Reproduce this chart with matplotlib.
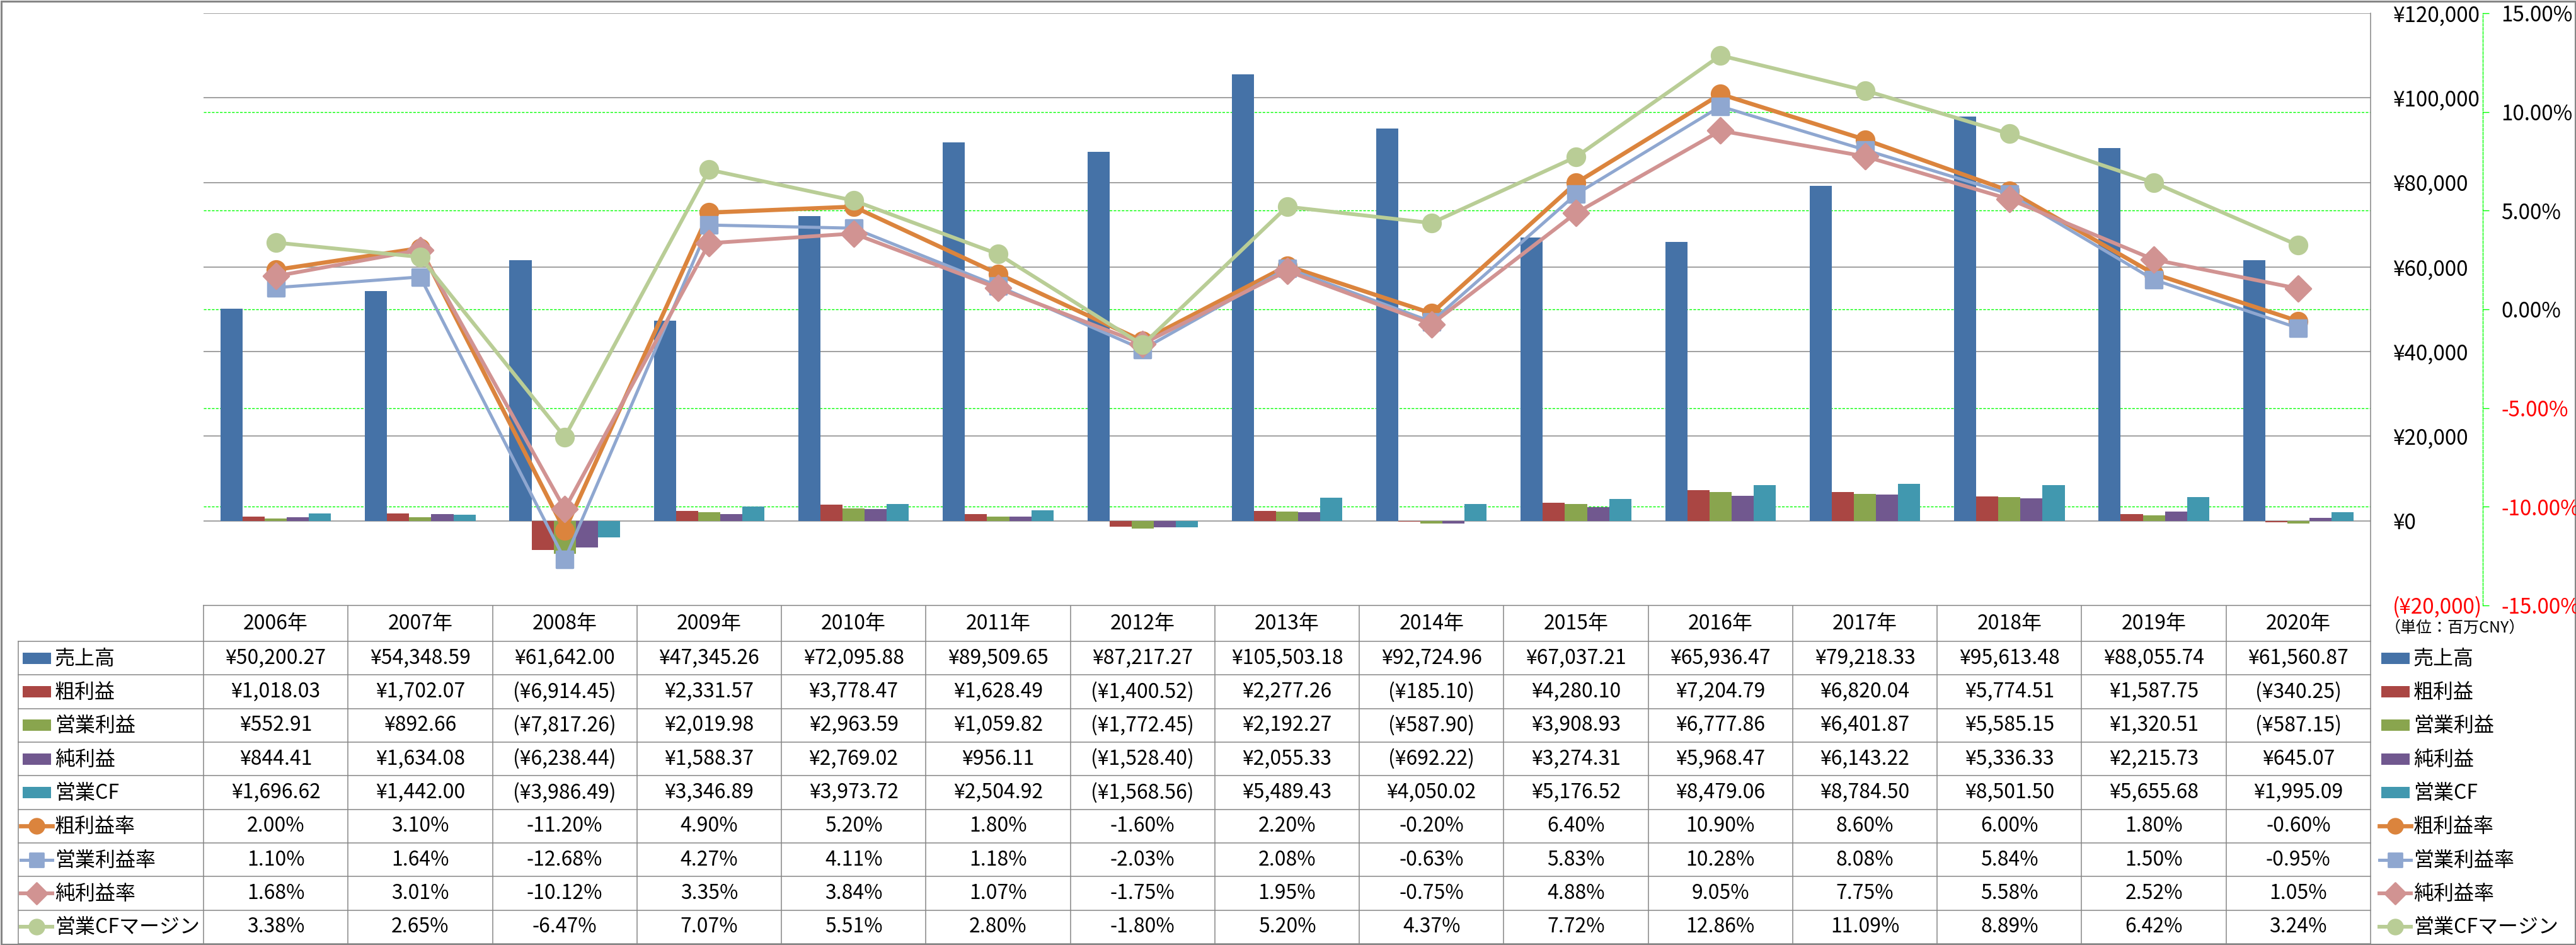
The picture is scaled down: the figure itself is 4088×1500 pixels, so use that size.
import numpy as np
import matplotlib
matplotlib.use('Agg')
import matplotlib.pyplot as plt
from matplotlib.patches import Rectangle
from matplotlib.lines import Line2D
from matplotlib.markers import MarkerStyle

plt.rcParams['font.family'] = ['Noto Sans CJK JP', 'DejaVu Sans']

years = ['2006年', '2007年', '2008年', '2009年', '2010年', '2011年', '2012年', '2013年',
         '2014年', '2015年', '2016年', '2017年', '2018年', '2019年', '2020年']

# 単位: 百万CNY
sales = [50200.27, 54348.59, 61642.00, 47345.26, 72095.88, 89509.65, 87217.27, 105503.18,
         92724.96, 67037.21, 65936.47, 79218.33, 95613.48, 88055.74, 61560.87]
gross = [1018.03, 1702.07, -6914.45, 2331.57, 3778.47, 1628.49, -1400.52, 2277.26,
         -185.10, 4280.10, 7204.79, 6820.04, 5774.51, 1587.75, -340.25]
oper = [552.91, 892.66, -7817.26, 2019.98, 2963.59, 1059.82, -1772.45, 2192.27,
        -587.90, 3908.93, 6777.86, 6401.87, 5585.15, 1320.51, -587.15]
net = [844.41, 1634.08, -6238.44, 1588.37, 2769.02, 956.11, -1528.40, 2055.33,
       -692.22, 3274.31, 5968.47, 6143.22, 5336.33, 2215.73, 645.07]
opcf = [1696.62, 1442.00, -3986.49, 3346.89, 3973.72, 2504.92, -1568.56, 5489.43,
        4050.02, 5176.52, 8479.06, 8784.50, 8501.50, 5655.68, 1995.09]

# percent
gross_m = [2.00, 3.10, -11.20, 4.90, 5.20, 1.80, -1.60, 2.20, -0.20, 6.40, 10.90, 8.60, 6.00, 1.80, -0.60]
oper_m = [1.10, 1.64, -12.68, 4.27, 4.11, 1.18, -2.03, 2.08, -0.63, 5.83, 10.28, 8.08, 5.84, 1.50, -0.95]
net_m = [1.68, 3.01, -10.12, 3.35, 3.84, 1.07, -1.75, 1.95, -0.75, 4.88, 9.05, 7.75, 5.58, 2.52, 1.05]
cf_m = [3.38, 2.65, -6.47, 7.07, 5.51, 2.80, -1.80, 5.20, 4.37, 7.72, 12.86, 11.09, 8.89, 6.42, 3.24]

bar_names = ['売上高', '粗利益', '営業利益', '純利益', '営業CF']
line_names = ['粗利益率', '営業利益率', '純利益率', '営業CFマージン']
unit_text = '（単位：百万CNY）'

bar_series = [sales, gross, oper, net, opcf]
line_series = [gross_m, oper_m, net_m, cf_m]
bar_colors = ['#4572A7', '#AA4643', '#89A54E', '#71588F', '#4198AF']
line_colors = ['#DB843D', '#8FA7D0', '#D19392', '#B9CD96']
line_markers = ['o', 's', 'D', 'o']
line_ms = [20, 18.5, 20, 20]
line_lw = [4.8, 3.6, 4.3, 4.3]

W, H = 4088, 1500
L, R, T, B = 323, 3762, 21, 961
gray = '#868686'
fs = 23

fig = plt.figure(figsize=(W / 100, H / 100), dpi=100)
ax = fig.add_axes([L / W, 1 - B / H, (R - L) / W, (B - T) / H])

n = len(years)
x = np.arange(n)
bw = 0.153
for j, (vals, c) in enumerate(zip(bar_series, bar_colors)):
    ax.bar(x + (j - 2) * bw, vals, width=bw, color=c, zorder=3, linewidth=0)

ymin, ymax = -20000, 120000
pmin, pmax = -0.15, 0.15
ax.set_xlim(-0.5, n - 0.5)
ax.set_ylim(ymin, ymax)
ax.set_xticks([])
ax.grid(axis='y', color=gray, linewidth=1.1, zorder=1)
ax.set_axisbelow(True)
for p in [-0.10, -0.05, 0.0, 0.05, 0.10]:
    ax.axhline(ymin + (p - pmin) / (pmax - pmin) * (ymax - ymin), color='#00FF00',
               linestyle=(0, (3, 1.6)), linewidth=1.0, zorder=2)
for s in ['top', 'left', 'bottom']:
    ax.spines[s].set_visible(False)
ax.spines['right'].set_color(gray)
ax.spines['right'].set_linewidth(1.1)

def mstyle(m):
    return MarkerStyle(m, joinstyle='round')

ax2 = ax.twinx()
ax2.set_ylim(pmin, pmax)
for vals, c, m, ms, lw in zip(line_series, line_colors, line_markers, line_ms, line_lw):
    ax2.plot(x, np.array(vals) / 100, color=c, marker=mstyle(m), markersize=ms, linewidth=lw,
             markeredgecolor=c, markeredgewidth=2.5, zorder=4)

# primary axis labels on the right side
yt = np.arange(ymin, ymax + 1, 20000)
ax.set_yticks(yt)
ax.yaxis.tick_right()
ax.tick_params(axis='y', length=0, pad=25, labelsize=24)
ax.set_yticklabels(['¥{:,.0f}'.format(v) if v >= 0 else '(¥{:,.0f})'.format(-v) for v in yt])

pt = np.linspace(pmin, pmax, 7)
ax2.set_yticks(pt)
ax2.set_yticklabels(['{:.2f}%'.format(v * 100) for v in pt])
ax2.tick_params(axis='y', length=7, width=1.0, color='#00FF00', pad=14, labelsize=24)
for s in ['top', 'left', 'bottom']:
    ax2.spines[s].set_visible(False)
ax2.spines['right'].set_position(('outward', (3940 - R) * 0.72))
ax2.spines['right'].set_color('#00FF00')
ax2.spines['right'].set_linestyle((0, (3, 1.6)))
ax2.spines['right'].set_linewidth(1.0)

for lbl in ax.get_yticklabels() + ax2.get_yticklabels():
    t = lbl.get_text()
    lbl.set_color('red' if t.startswith('-') or t.startswith('(') else 'black')

# table and legends drawn in pixel coordinates
ov = fig.add_axes([0, 0, 1, 1], zorder=-1)
ov.set_xlim(0, W)
ov.set_ylim(H, 0)
ov.axis('off')

rows = [961, 1018] + [1018 + (1498 - 1018) * k / 9 for k in range(1, 10)]
colw = (R - L) / n
lc = dict(color=gray, linewidth=1.1)
ov.plot([L, R], [rows[0], rows[0]], **lc)
for yy in rows[1:]:
    ov.plot([29, R], [yy, yy], **lc)
for k in range(n + 1):
    ov.plot([L + k * colw, L + k * colw], [rows[0], rows[-1]], **lc)
ov.plot([29, 29], [rows[1], rows[-1]], **lc)

for i, yr in enumerate(years):
    ov.text(L + (i + 0.5) * colw, (rows[0] + rows[1]) / 2, yr, ha='center', va='center', fontsize=fs)

def money(v):
    return '¥{:,.2f}'.format(v) if v >= 0 else '(¥{:,.2f})'.format(-v)

table_vals = [[money(v) for v in s] for s in bar_series] + \
             [['{:.2f}%'.format(v) for v in s] for s in line_series]
for r, vals in enumerate(table_vals):
    yc = (rows[r + 1] + rows[r + 2]) / 2
    for i, t in enumerate(vals):
        ov.text(L + (i + 0.5) * colw, yc, t, ha='center', va='center', fontsize=fs)

names = bar_names + line_names
for r, name in enumerate(names):
    yc = (rows[r + 1] + rows[r + 2]) / 2
    for kx, tx in [(36, 87), (3779, 3830)]:
        if r < 5:
            ov.add_patch(Rectangle((kx, yc - 9), 45, 18, color=bar_colors[r], linewidth=0))
        else:
            c = line_colors[r - 5]
            ov.add_line(Line2D([kx - 3, kx + 47], [yc, yc], color=c, linewidth=line_lw[r - 5]))
            ov.add_line(Line2D([kx + 22], [yc], marker=mstyle(line_markers[r - 5]), color=c,
                               markeredgewidth=2, markersize=line_ms[r - 5] * 0.85))
        ov.text(tx, yc + 1, name, ha='left', va='center', fontsize=fs)

ov.text(3785, 997, unit_text, ha='left', va='center', fontsize=18)
ov.add_patch(Rectangle((1.5, 1.5), W - 3, H - 3, fill=False, edgecolor=gray, linewidth=2.2))

fig.savefig('out.png', dpi=100)
